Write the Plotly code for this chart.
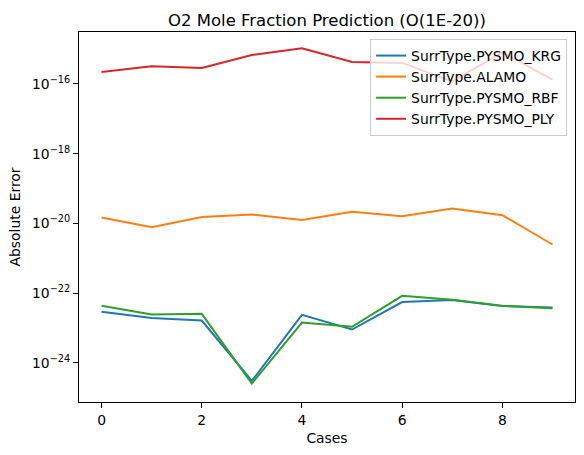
import plotly.graph_objects as go

cases = list(range(10))
krg = [2.92e-23, 1.93e-23, 1.65e-23, 3.06e-25, 2.40e-23, 9.08e-24, 5.56e-23, 6.34e-23, 4.26e-23, 3.89e-23]
alamo = [1.49e-20, 7.8e-21, 1.52e-20, 1.81e-20, 1.25e-20, 2.17e-20, 1.62e-20, 2.70e-20, 1.73e-20, 2.49e-21]
rbf = [4.35e-23, 2.45e-23, 2.56e-23, 2.56e-25, 1.44e-23, 1.09e-23, 8.42e-23, 6.47e-23, 4.35e-23, 3.73e-23]
ply = [2.21e-16, 3.20e-16, 2.88e-16, 6.79e-16, 1.05e-15, 4.28e-16, 4.01e-16, 1.19e-16, 8.07e-16, 1.33e-16]

series_names = ["SurrType.PYSMO_KRG", "SurrType.ALAMO", "SurrType.PYSMO_RBF", "SurrType.PYSMO_PLY"]
series_vals = [krg, alamo, rbf, ply]
colors = ["#1f77b4", "#ff7f0e", "#2ca02c", "#d62728"]

ytick_exps = [-16, -18, -20, -22, -24]
xtick_vals = [0, 2, 4, 6, 8]

FONT = "DejaVu Sans"

fig = go.Figure()
for name, vals, c in zip(series_names, series_vals, colors):
    fig.add_trace(go.Scatter(x=cases, y=vals, mode="lines", name=name,
                             line=dict(color=c, width=2)))

fig.update_layout(
    width=584, height=455,
    margin=dict(l=79, r=9, t=32, b=53),
    paper_bgcolor="white", plot_bgcolor="white",
    font=dict(family=FONT, size=14, color="black"),
    title=dict(text="O2 Mole Fraction Prediction (O(1E-20))", x=0.5, xref="paper",
               xanchor="center", y=1 - 20 / 455, yref="container", yanchor="middle",
               font=dict(family=FONT, size=16.5, color="black")),
    showlegend=True,
    legend=dict(x=0.984, y=0.981, xanchor="right", yanchor="top",
                bgcolor="rgba(255,255,255,0.8)", bordercolor="#cccccc", borderwidth=1,
                font=dict(family=FONT, size=13.9, color="black"), itemwidth=30,
                tracegroupgap=0),
)

fig.update_xaxes(
    range=[-0.45, 9.45], tickvals=xtick_vals, ticktext=[str(v) for v in xtick_vals],
    showgrid=False, zeroline=False, showline=True, mirror=True, linecolor="black", linewidth=1,
    ticks="outside", ticklen=5, tickwidth=1, tickcolor="black",
    tickfont=dict(family=FONT, size=13.9, color="black"),
    title=dict(text="Cases", font=dict(family=FONT, size=13.9, color="black"), standoff=6),
)
fig.update_yaxes(
    type="log", range=[-25.12, -14.51],
    tickvals=[10.0 ** e for e in ytick_exps],
    ticktext=["10<sup>\u2212%d</sup>" % (-e) for e in ytick_exps],
    showgrid=False, zeroline=False, showline=True, mirror=True, linecolor="black", linewidth=1,
    ticks="outside", ticklen=5, tickwidth=1, tickcolor="black",
    tickfont=dict(family=FONT, size=13.9, color="black"),
    title=dict(text="Absolute Error", font=dict(family=FONT, size=13.9, color="black"), standoff=8),
)

fig.write_html("out.html")
